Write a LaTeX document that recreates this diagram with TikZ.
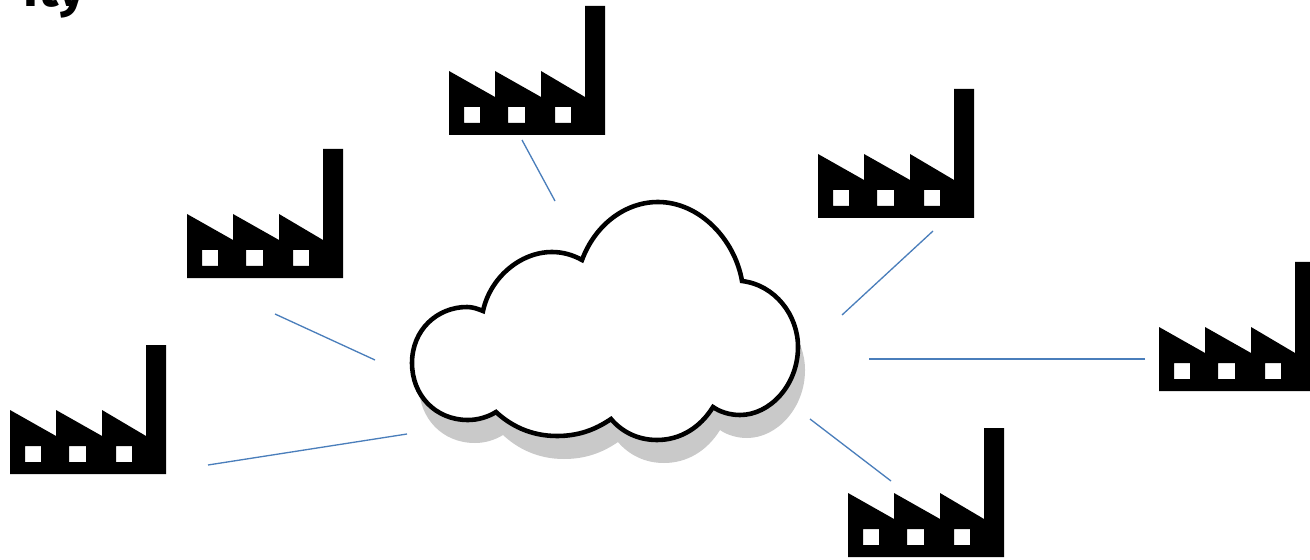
\documentclass[tikz,border=0pt]{standalone}
\usepackage{fontspec}
\setmainfont{Fira Sans}
\definecolor{linkblue}{HTML}{4A7EBB}
\definecolor{shadowgrey}{HTML}{C9C9C9}
\tikzset{
  x=0.02cm,y=-0.02cm,
  link/.style={draw=linkblue,line width=0.75pt},
  cloudline/.style={draw=black,fill=white,line width=2.6pt,line join=miter},
  cloudshadow/.style={fill=shadowgrey},
  factory/.pic={
    \fill[black,even odd rule] (0,0)--(0,-64)--(46,-38)--(46,-64)--(92,-38)--(92,-64)--(136,-38)--(136,-129)--(156,-129)--(156,0)--cycle
      (15,-12) rectangle (31,-28)
      (59,-12) rectangle (76,-28)
      (106,-12) rectangle (122,-28);
  }
}
\newcommand{\cloudoutline}{(483,311) .. controls (490,278) and (520,252) .. (552,252)
  .. controls (563,252) and (573,255) .. (582,260)
  .. controls (595,225) and (625,202) .. (658,202)
  .. controls (700,202) and (735,240) .. (742,281)
  .. controls (775,285) and (798,315) .. (798,347)
  .. controls (798,385) and (770,415) .. (740,415)
  .. controls (730,415) and (720,412) .. (713,407)
  .. controls (700,428) and (680,440) .. (657,440)
  .. controls (638,440) and (622,432) .. (611,419)
  .. controls (595,430) and (578,436) .. (557,436)
  .. controls (530,436) and (510,425) .. (496,412)
  .. controls (488,417) and (478,420) .. (468,420)
  .. controls (435,420) and (412,395) .. (412,363)
  .. controls (412,330) and (437,307) .. (467,307)
  .. controls (473,307) and (478,309) .. (483,311) -- cycle}
\begin{document}
\begin{tikzpicture}
\useasboundingbox (0,0) rectangle (1310,560);
\clip (0,0) rectangle (1310,560);
\fill[white] (0,0) rectangle (1310,560);
% clipped title fragment
\node[anchor=base east,inner sep=0pt,font=\fontsize{30pt}{34pt}\selectfont\bfseries] (title) at (86,7) {ity};
% factories
\pic at (449,135) {factory};
\pic at (818,218) {factory};
\pic at (187,278) {factory};
\pic at (10,474) {factory};
\pic at (1159,391) {factory};
\pic at (848,557) {factory};
% cloud
\begin{scope}[shift={(7,23)}]
\fill[cloudshadow] \cloudoutline;
\end{scope}
\path[cloudline] \cloudoutline;
% connectors
\coordinate (a1) at (522,140); \coordinate (a2) at (555,201);
\coordinate (b1) at (933,231); \coordinate (b2) at (842,315);
\coordinate (c1) at (275,314); \coordinate (c2) at (375,360);
\coordinate (d1) at (208,465); \coordinate (d2) at (407,434);
\coordinate (e1) at (1145,359); \coordinate (e2) at (869,359);
\coordinate (f1) at (891,481); \coordinate (f2) at (810,419);
\draw[link] (a1)--(a2);
\draw[link] (b1)--(b2);
\draw[link] (c1)--(c2);
\draw[link] (d1)--(d2);
\draw[link] (e1)--(e2);
\draw[link] (f1)--(f2);
\end{tikzpicture}
\end{document}
